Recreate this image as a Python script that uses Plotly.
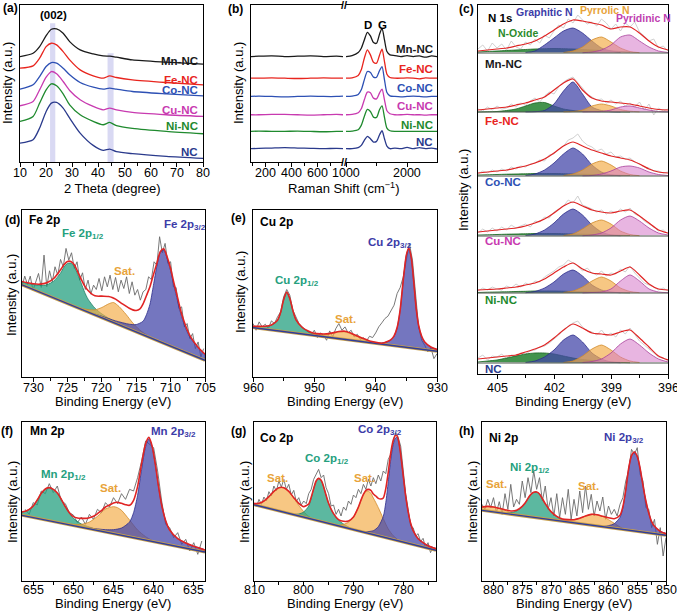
import plotly.graph_objects as go

W, H = 677, 612
FONT = "Liberation Sans, Arial, sans-serif"

# ---------------- (a) XRD ----------------
samples = ["Mn-NC", "Fe-NC", "Co-NC", "Cu-NC", "Ni-NC", "NC"]
sample_colors = ["#1a1a1a", "#e8251e", "#2d50b4", "#c83ab0", "#1f8a2e", "#2a3a8c"]

xrd_x = [10, 15, 17.5, 20, 22, 24, 26.5, 29, 33, 38, 41.8, 44.3, 46.9, 53, 66, 80]
xrd_mn = [23, 33, 53, 86, 105, 106, 93, 68, 43, 31, 25, 24, 21, 13, 6, 0]
xrd_fe = [50, 57, 80, 115, 125, 120, 100, 75, 45, 27, 20, 27, 22, 15, 7, 0]
xrd_co = [20, 33, 58, 88, 100, 98, 83, 63, 40, 26, 20, 23, 20, 13, 6, 0]
xrd_cu = [32, 45, 80, 118, 135, 128, 105, 78, 50, 30, 20, 25, 20, 12, 5, 0]
xrd_ni = [37, 52, 92, 132, 150, 144, 120, 87, 57, 37, 27, 34, 24, 16, 7, 0]
xrd_nc = [46, 56, 91, 141, 166, 168, 151, 121, 76, 39, 24, 28, 20, 14, 6, 0]
xrd_bands = [(21.5, 23.5, 417), (43.5, 45.8, 327)]

# ---------------- (b) Raman ----------------
raman_xl = [90, 150, 250, 350, 450, 550, 650, 750, 800]
raman_l_mn = [0, 1, 2, 0, 1, 2, 0, 1, 0]
raman_l_fe = [0, 0, 1, 0, -1, 0, 1, 0, 0]
raman_l_co = [0, 1, 0, -1, 0, 1, 0, 0, 1]
raman_l_cu = [0, 0, 1, 1, 0, -1, 0, 1, 0]
raman_l_ni = [0, 1, 0, 0, 1, 0, -1, 0, 0]
raman_l_nc = [0, 1, 2, 3, 2, 1, 0, 1, 0]
raman_xr = [1000, 1100, 1200, 1250, 1300, 1350, 1400, 1450, 1500, 1550, 1590,
            1630, 1670, 1720, 1800, 1900, 2000, 2100, 2200, 2300, 2400, 2490]
raman_r_mn = [0, 3, 12, 25, 50, 73, 62, 42, 40, 68, 85, 50, 15, 5, 3, 0, 3, 0, 2, -2, 2, 0]
raman_r_fe = [0, 1, 8, 25, 60, 85, 70, 48, 45, 70, 87, 50, 12, 2, 0, 0, 1, 0, -2, 1, 0, 0]
raman_r_co = [0, 1, 6, 20, 50, 75, 72, 58, 58, 78, 90, 50, 12, 2, 0, -1, 0, 1, 0, -1, 0, 0]
raman_r_cu = [0, 1, 6, 18, 45, 68, 66, 50, 48, 66, 77, 45, 12, 3, 0, 0, 1, 0, 0, -1, 0, 0]
raman_r_ni = [0, 1, 5, 18, 45, 66, 60, 43, 42, 66, 77, 42, 10, 2, 0, 0, 0, 0, 0, 0, 0, 0]
raman_r_nc = [0, 0, 3, 10, 25, 37, 30, 20, 22, 42, 54, 30, 8, 0, 2, 0, 4, 0, 3, 0, 2, -1]

# ---------------- (c) N 1s ----------------
n1s_raw_x = [406, 405.75, 405.5, 405.25, 405, 404.75, 404.5, 404.25, 404, 403.75,
             403.5, 403.25, 403, 402.75, 402.5, 402.25, 402, 401.75, 401.5, 401.25,
             401, 400.75, 400.5, 400.25, 400, 399.75, 399.5, 399.25, 399, 398.75,
             398.5, 398.25, 398, 397.75, 397.5, 397.25, 397, 396.75, 396.5, 396.25, 396]
n1s_raw = [
    [4, 8, 2, 10, 5, 9, 3, 12, 6, 4, 11, 8, 14, 10, 18, 15, 22, 28, 25, 34, 30, 38, 33, 29, 31,
     27, 34, 30, 24, 29, 22, 30, 26, 31, 21, 17, 12, 14, 5, 7, 2],
    [3, 1, 5, 2, 6, 3, 4, 8, 5, 9, 7, 11, 14, 10, 16, 20, 18, 25, 30, 33, 35, 30, 24, 18, 15,
     12, 13, 9, 12, 8, 11, 6, 9, 5, 10, 2, 8, -3, 4, 1, 3],
    [2, 5, 3, 6, 4, 7, 5, 9, 7, 10, 9, 12, 13, 16, 15, 21, 22, 27, 30, 36, 38, 42, 35, 31, 29,
     25, 27, 22, 24, 19, 20, 17, 18, 14, 12, 9, 8, 5, 5, 3, 4],
    [3, 7, 4, 8, 5, 9, 6, 11, 8, 10, 12, 9, 15, 14, 19, 18, 24, 27, 30, 36, 33, 40, 31, 29, 27,
     24, 26, 22, 25, 23, 27, 24, 28, 22, 20, 15, 12, 9, 5, 6, 2],
    [2, 5, 3, 6, 4, 3, 7, 5, 9, 6, 10, 8, 12, 11, 16, 19, 22, 26, 28, 33, 30, 27, 22, 25, 20,
     18, 22, 17, 20, 19, 24, 21, 27, 20, 15, 10, 8, 6, 3, 5, 2],
    [5, 8, 3, 7, 6, 9, 4, 8, 7, 10, 9, 12, 13, 16, 17, 20, 24, 28, 33, 37, 40, 42, 36, 32, 31,
     28, 33, 27, 30, 26, 33, 29, 35, 28, 22, 18, 14, 10, 6, 5, 2],
]
n1s_env_x = [406, 405.5, 405, 404.5, 404, 403.5, 403, 402.5, 402, 401.5, 401,
             400.5, 400, 399.5, 399, 398.5, 398, 397.5, 397, 396.5, 396]
n1s_env = [
    [2, 3, 4, 5, 7, 9, 12, 17, 23, 29, 33, 32, 30, 28, 24, 26, 26, 20, 12, 6, 3],
    [2, 3, 4, 5, 7, 9, 12, 15, 22, 29, 33, 22, 14, 11, 10, 9, 8, 6, 4, 2.5, 2],
    [3, 4, 5, 6, 8, 10, 13, 17, 23, 30, 34, 30, 26, 23, 20, 18, 16, 12, 7, 4, 3],
    [4, 5, 6, 7, 8, 10, 13, 17, 23, 30, 34, 30, 26, 24, 23, 25, 26, 20, 13, 6, 3],
    [3, 3.5, 4, 5, 6, 8, 10, 14, 20, 26, 30, 24, 20, 19, 18, 22, 26, 18, 9, 4, 3],
    [4, 5, 6, 7, 8, 11, 14, 18, 25, 33, 39, 35, 30, 29, 28, 31, 33, 25, 16, 7, 3],
]
oxide_x = [406, 405.5, 405, 404.5, 404, 403.5, 403, 402.5, 402, 401.5, 401, 400.5, 400, 399.5, 399, 398.5, 398]
oxide_h = [
    [1, 1.5, 2, 2.5, 3, 3.5, 4, 4.3, 4.5, 4.3, 4, 3.5, 3, 2.5, 2, 1.5, 1],
    [0, 0.2, 0.5, 1.5, 3, 6, 9, 9.5, 6, 3, 1.5, 1, 0.5, 0.3, 0.2, 0.1, 0],
    [1, 1.2, 1.5, 1.8, 2, 2.2, 2.5, 2.5, 2.5, 2.3, 2, 1.8, 1.5, 1.2, 1, 0.7, 0.5],
    [1, 1.2, 1.5, 1.8, 2, 2.2, 2.5, 2.5, 2.5, 2.3, 2, 1.8, 1.5, 1.2, 1, 0.7, 0.5],
    [0.5, 0.8, 1, 1.2, 1.5, 1.7, 2, 2, 2, 1.8, 1.5, 1.3, 1, 0.8, 0.6, 0.4, 0.2],
    [1, 2, 3, 5, 7, 9, 10, 10, 9, 7, 5, 3.5, 2.5, 1.5, 1, 0.6, 0.3],
]
graphitic_x = [403.5, 403, 402.5, 402, 401.5, 401, 400.5, 400, 399.5, 399, 398.5]
graphitic_h = [
    [0.5, 2, 8, 15, 22, 25, 20, 12, 5, 2, 0.5],
    [0.1, 0.3, 1.5, 8, 21, 30, 18, 5, 1.5, 0.3, 0.1],
    [0.5, 2, 6, 13, 22, 28, 22, 11, 4, 1, 0.3],
    [0.5, 2, 6, 13, 22, 27, 21, 11, 4, 1, 0.3],
    [0.3, 1.5, 5, 11, 19, 23, 17, 8, 3, 1, 0.3],
    [0.5, 2, 6, 13, 23, 28, 21, 10, 4, 1, 0.3],
]
pyrrolic_x = [401.5, 401, 400.5, 400, 399.5, 399, 398.5, 398, 397.5]
pyrrolic_h = [
    [0.5, 2, 6, 13, 16, 11, 5, 1.5, 0.3],
    [0.2, 0.5, 2, 6, 8, 6, 2.5, 0.8, 0.2],
    [0.5, 2, 6, 12, 15, 11, 5, 1.5, 0.3],
    [0.5, 2, 7, 13, 16, 12, 5, 1.5, 0.3],
    [0.5, 2, 6, 12, 16, 12, 5, 1.5, 0.3],
    [0.5, 2, 7, 14, 18, 13, 6, 2, 0.5],
]
pyridinic_x = [400.5, 400, 399.5, 399, 398.5, 398, 397.5, 397, 396.5, 396]
pyridinic_h = [
    [0.3, 1, 3, 8, 16, 18, 12, 6, 2, 0.5],
    [0.1, 0.2, 0.5, 2, 5, 6, 4, 2, 0.5, 0.2],
    [0.2, 0.5, 2, 5, 9, 10, 8, 4, 1.5, 0.5],
    [0.3, 1, 3, 8, 16, 20, 15, 8, 3, 1],
    [0.1, 0.5, 1, 4, 12, 18, 12, 4, 1, 0.3],
    [0.5, 1.5, 4, 10, 19, 24, 18, 10, 4, 1],
]

# ---------------- (d) Fe 2p ----------------
fe_raw_x = [731.6, 731.2, 730.8, 730.4, 730.0, 729.6, 729.2, 728.8, 728.4, 728.0,
            727.6, 727.2, 726.8, 726.4, 726.0, 725.6, 725.2, 724.8, 724.4, 724.0,
            723.6, 723.2, 722.8, 722.4, 722.0, 721.6, 721.2, 720.8, 720.4, 720.0,
            719.6, 719.2, 718.8, 718.4, 718.0, 717.6, 717.2, 716.8, 716.4, 716.0,
            715.6, 715.2, 714.8, 714.4, 714.0, 713.6, 713.2, 712.8, 712.4, 712.0,
            711.6, 711.2, 710.8, 710.4, 710.0, 709.6, 709.2, 708.8, 708.4, 708.0,
            707.6, 707.2, 706.8, 706.4, 706.0, 705.6, 705.2]
fe_raw = [271, 302, 277, 302, 259, 288, 310, 268, 365, 270,
          318, 285, 330, 305, 352, 330, 385, 350, 372, 325,
          345, 290, 312, 262, 290, 248, 275, 262, 295, 258,
          300, 270, 305, 262, 298, 255, 290, 265, 300, 250,
          285, 245, 262, 230, 255, 262, 300, 292, 345, 335,
          420, 372, 400, 340, 345, 270, 268, 205, 210, 150,
          160, 115, 130, 85, 105, 60, 85]
fe_p12_x = [731.6, 731.6, 731, 730, 729, 728, 727, 726, 725.5, 725, 724.5, 724, 723.5, 723,
            722.5, 722, 721, 720, 719, 718, 717, 716]
fe_p12 = [276, 284, 281, 277, 274, 276, 287, 311, 329, 340, 341, 330, 307, 281,
          254, 233, 206, 189, 176, 165, 154, 144]
fe_sat_x = [724, 723, 722, 721, 720, 719, 718.3, 717.5, 716.5, 715.5, 714.5, 713.5, 712.5]
fe_sat = [212, 206, 202, 201, 208, 219, 223, 211, 188, 162, 141, 126, 114]
fe_p32_x = [722, 720, 718, 716, 715, 714, 713.5, 713, 712.5, 712, 711.5, 711, 710.5, 710,
            709.5, 709, 708.5, 708, 707.5, 707, 706, 705, 705]
fe_p32 = [194, 182, 168, 158, 157, 167, 187, 218, 274, 332, 373, 381, 355, 318,
          273, 229, 188, 156, 131, 113, 89, 68, 50]
fe_env_x = [731.6, 731, 730, 729, 728, 727, 726, 725.5, 725, 724.5,
            724, 723.5, 723, 722.5, 722, 721, 720, 719, 718.5, 718,
            717, 716, 715.5, 715, 714.5, 714, 713.5, 713, 712.5, 712,
            711.5, 711, 710.5, 710, 709.5, 709, 708.5, 708, 707.5, 707, 706, 705]
fe_env = [286, 283, 279, 278, 282, 295, 321, 336, 346, 346,
          336, 315, 293, 273, 259, 243, 242, 241, 238, 233,
          219, 206, 201, 199, 203, 219, 244, 270, 306, 340,
          375, 384, 359, 325, 280, 239, 196, 164, 137, 117, 89, 68]
fe_base_x = [731.6, 705]
fe_base = [276, 50]

# ---------------- (e) Cu 2p ----------------
cu_raw_x = [960, 959.5, 959, 958.5, 958, 957.5, 957, 956.5, 956, 955.5,
            955, 954.5, 954, 953.5, 953, 952.5, 952, 951.5, 951, 950.5,
            950, 949.5, 949, 948.5, 948, 947.5, 947, 946.5, 946, 945.5,
            945, 944.5, 944, 943.5, 943, 942.5, 942, 941.5, 941, 940.5,
            940, 939.5, 939, 938.5, 938, 937.5, 937, 936.5, 936, 935.5,
            935, 934.5, 934, 933.5, 933, 932.5, 932, 931.5, 931, 930.5, 930]
cu_raw = [160, 140, 165, 150, 158, 145, 168, 160, 180, 195,
          240, 262, 245, 200, 180, 160, 150, 142, 135, 128,
          140, 118, 132, 125, 110, 138, 120, 145, 160, 140,
          150, 132, 140, 120, 128, 112, 118, 108, 122, 118,
          132, 150, 162, 175, 182, 200, 215, 250, 268, 300,
          352, 400, 350, 240, 150, 110, 95, 75, 88, 55, 70]
cu_p12_x = [960, 960, 959, 958, 957, 956, 955.5, 955, 954.5, 954, 953.5, 953, 952, 951, 950, 949, 948, 947]
cu_p12 = [148, 151, 151, 151, 155, 169, 192, 231, 253, 234, 198, 171, 147, 136, 129, 125, 121, 117]
cu_sat_x = [951, 950, 949, 948, 947, 946, 945, 944, 943, 942, 941, 940, 939]
cu_sat = [127, 126, 126, 128, 131, 135, 135, 129, 121, 113, 106, 102, 98]
cu_p32_x = [941, 939, 938, 937.5, 937, 936.5, 936, 935.5, 935, 934.6, 934.2, 933.8, 933.4, 933,
            932.5, 932, 931, 930, 930]
cu_p32 = [103, 102, 106, 111, 122, 147, 201, 290, 364, 385, 357, 286, 205, 154,
          121, 104, 89, 82, 77]
cu_env_x = [960, 959, 958, 957, 956, 955.5, 955, 954.5, 954, 953.5,
            953, 952, 951, 950, 949, 948, 947, 946, 945, 944,
            943, 942, 941, 940, 939, 938, 937.5, 937, 936.5, 936,
            935.5, 935, 934.6, 934.2, 933.8, 933.4, 933, 932.5, 932, 931, 930]
cu_env = [152, 152, 152, 156, 170, 193, 232, 254, 235, 199,
          172, 149, 138, 131, 129, 129, 132, 136, 137, 131,
          123, 115, 108, 104, 101, 107, 112, 123, 148, 202,
          291, 365, 386, 358, 287, 206, 155, 122, 105, 90, 83]
cu_base_x = [960, 930]
cu_base = [148, 77]

# ---------------- (f) Mn 2p ----------------
mn_raw_x = [656, 655.5, 655, 654.5, 654, 653.5, 653, 652.5, 652, 651.5,
            651, 650.5, 650, 649.5, 649, 648.5, 648, 647.5, 647, 646.5,
            646, 645.5, 645, 644.5, 644, 643.5, 643, 642.5, 642, 641.5,
            641, 640.5, 640, 639.5, 639, 638.5, 638, 637.5, 637, 636.5,
            636, 635.5, 635, 634.5, 634]
mn_raw = [215, 200, 235, 228, 270, 262, 292, 265, 285, 240,
          232, 205, 198, 175, 192, 170, 200, 185, 215, 205,
          235, 222, 250, 232, 262, 245, 275, 270, 310, 360,
          420, 410, 400, 330, 240, 170, 160, 130, 145, 110,
          125, 90, 115, 80, 120]
mn_p12_x = [656.4, 656.4, 656, 655.5, 655, 654.5, 654, 653.5, 653, 652.5, 652, 651.5, 651,
            650.5, 650, 649, 648, 647, 646]
mn_p12 = [197, 207, 209, 215, 225, 243, 263, 276, 280, 275, 264, 245, 223,
          204, 188, 171, 162, 154, 147]
mn_sat_x = [651, 650, 649, 648, 647, 646, 645, 644.5, 644, 643, 642, 641, 640]
mn_sat = [172, 170, 170, 177, 194, 216, 223, 220, 212, 183, 153, 133, 119]
mn_p32_x = [650, 648, 646, 645, 644, 643, 642.5, 642, 641.5, 641, 640.6, 640.2, 639.8, 639.4,
            639, 638.5, 638, 637, 636, 635, 633.6, 633.6]
mn_p32 = [166, 159, 154, 154, 159, 177, 205, 257, 335, 403, 426, 404, 352, 285,
          228, 181, 153, 127, 114, 104, 93, 87]
mn_env_x = [656.4, 656, 655.5, 655, 654.5, 654, 653.5, 653, 652.5, 652,
            651.5, 651, 650.5, 650, 649.5, 649, 648.5, 648, 647.5, 647,
            646.5, 646, 645.5, 645, 644.5, 644, 643.5, 643, 642.5, 642,
            641.5, 641, 640.6, 640.2, 639.8, 639.4, 639, 638.5, 638, 637, 636, 635, 633.6]
mn_env = [207, 209, 215, 225, 243, 263, 276, 280, 275, 264,
          245, 223, 205, 193, 189, 188, 188, 190, 194, 202,
          211, 222, 228, 234, 236, 233, 229, 227, 242, 283,
          352, 412, 431, 406, 352, 285, 228, 181, 153, 127, 114, 104, 93]
mn_base_x = [656.4, 633.6]
mn_base = [197, 87]

# ---------------- (g) Co 2p ----------------
co_raw_x = [810, 809.5, 809, 808.5, 808, 807.5, 807, 806.5, 806, 805.5,
            805, 804.5, 804, 803.5, 803, 802.5, 802, 801.5, 801, 800.5,
            800, 799.5, 799, 798.5, 798, 797.5, 797, 796.5, 796, 795.5,
            795, 794.5, 794, 793.5, 793, 792.5, 792, 791.5, 791, 790.5,
            790, 789.5, 789, 788.5, 788, 787.5, 787, 786.5, 786, 785.5,
            785, 784.5, 784, 783.5, 783, 782.5, 782, 781.5, 781, 780.5,
            780, 779.5, 779, 778.5, 778, 777.5, 777, 776.5, 776, 775.5,
            775, 774.5, 774]
co_raw = [235, 222, 245, 230, 252, 240, 268, 255, 285, 270,
          300, 282, 305, 275, 290, 258, 272, 238, 250, 228,
          240, 232, 262, 275, 305, 318, 335, 310, 318, 280,
          262, 225, 228, 200, 215, 195, 222, 212, 240, 230,
          258, 250, 275, 262, 290, 275, 305, 285, 310, 292,
          318, 300, 330, 322, 365, 380, 420, 445, 430, 405,
          330, 262, 215, 165, 160, 135, 142, 118, 128, 100,
          115, 85, 102]
co_sat2_x = [810, 810, 809, 808, 807, 806, 805, 804, 803, 802, 801, 800, 799, 798]
co_sat2 = [229, 232, 233, 240, 253, 269, 280, 280, 269, 249, 227, 208, 194, 184]
co_p12_x = [802, 801, 800, 799, 798.5, 798, 797.5, 797, 796.5, 796, 795.5, 795, 794, 793, 792, 791, 790]
co_p12 = [200, 201, 207, 225, 248, 277, 300, 308, 302, 283, 257, 233, 201, 182, 171, 162, 154]
co_sat1_x = [793, 792, 791, 790, 789, 788.5, 788, 787.5, 787, 786.5, 786, 785.5, 785, 784, 783, 782, 781]
co_sat1 = [167, 170, 176, 192, 222, 242, 260, 269, 270, 263, 249, 235, 220, 187, 156, 136, 123]
co_p32_x = [788, 786, 785, 784, 783.5, 783, 782.5, 782, 781.6, 781.2, 780.8, 780.4, 780, 779.5,
            779, 778.5, 778, 777, 776, 775, 773.4, 773.4]
co_p32 = [147, 151, 163, 194, 235, 298, 364, 410, 428, 431, 410, 368, 317, 255,
          208, 173, 151, 128, 115, 106, 97, 92]
co_env_x = [810, 809, 808, 807, 806, 805, 804, 803, 802, 801,
            800, 799.5, 799, 798.5, 798, 797.5, 797, 796.5, 796, 795.5,
            795, 794, 793, 792, 791, 790, 789, 788.5, 788, 787.5,
            787, 786.5, 786, 785.5, 785, 784.5, 784, 783.5, 783, 782.5,
            782, 781.6, 781.2, 780.8, 780.4, 780, 779.5, 779, 778.5, 778,
            777, 776, 775, 773.4]
co_env = [232, 233, 240, 253, 269, 280, 280, 269, 250, 233,
          223, 226, 231, 251, 277, 300, 308, 302, 283, 257,
          233, 202, 184, 179, 180, 192, 222, 242, 260, 272,
          275, 272, 261, 255, 248, 246, 249, 277, 326, 384,
          422, 436, 435, 410, 368, 317, 255, 208, 173, 151,
          127, 115, 106, 97]
co_base_x = [810, 773.4]
co_base = [229, 92]

# ---------------- (h) Ni 2p ----------------
ni_raw_x = [882, 881.5, 881, 880.5, 880, 879.5, 879, 878.5, 878, 877.5,
            877, 876.5, 876, 875.5, 875, 874.5, 874, 873.5, 873, 872.5,
            872, 871.5, 871, 870.5, 870, 869.5, 869, 868.5, 868, 867.5,
            867, 866.5, 866, 865.5, 865, 864.5, 864, 863.5, 863, 862.5,
            862, 861.5, 861, 860.5, 860, 859.5, 859, 858.5, 858, 857.5,
            857, 856.5, 856, 855.5, 855, 854.5, 854, 853.5, 853, 852.5,
            852, 851.5, 851, 850.5, 850]
ni_raw = [230, 215, 245, 220, 250, 205, 238, 200, 262, 215,
          290, 222, 245, 230, 300, 250, 310, 265, 330, 275,
          310, 240, 285, 215, 250, 195, 262, 190, 250, 200,
          275, 185, 245, 195, 270, 205, 285, 215, 260, 195,
          240, 210, 252, 185, 225, 200, 215, 195, 230, 250,
          300, 330, 395, 380, 400, 320, 300, 220, 215, 160,
          185, 110, 160, 75, 130]
ni_sat2_x = [882, 882, 881, 880, 879, 878, 877, 876, 875]
ni_sat2 = [212, 222, 224, 222, 218, 212, 205, 200, 196]
ni_p12_x = [879, 878, 877, 876, 875, 874.5, 874, 873.5, 873, 872.5, 872, 871.5, 871, 870, 869, 868, 867, 866]
ni_p12 = [205, 205, 205, 210, 224, 234, 248, 260, 266, 267, 261, 247, 232, 208, 193, 184, 179, 174]
ni_sat1_x = [868, 867, 866, 865, 864, 863, 862, 861, 860, 859, 858, 857]
ni_sat1 = [181, 182, 184, 188, 195, 200, 199, 194, 184, 173, 162, 153]
ni_p32_x = [861, 860, 859, 858, 857.5, 857, 856.5, 856, 855.5, 855, 854.5, 854, 853.5, 853,
            852.5, 852, 851, 850, 850]
ni_p32 = [163, 166, 172, 191, 220, 273, 337, 376, 387, 374, 338, 286, 240, 204,
          178, 164, 149, 142, 137]
ni_env_x = [882, 881, 880, 879, 878, 877, 876, 875, 874.5, 874,
            873.5, 873, 872.5, 872, 871.5, 871, 870, 869, 868, 867,
            866, 865, 864, 863, 862, 861, 860, 859, 858, 857.5,
            857, 856.5, 856, 855.5, 855, 854.5, 854, 853.5, 853, 852.5,
            852, 851, 850]
ni_env = [222, 224, 222, 218, 214, 210, 212, 224, 234, 248,
          260, 266, 267, 261, 247, 232, 208, 194, 186, 184,
          184, 188, 195, 200, 199, 194, 190, 187, 197, 223,
          273, 337, 376, 387, 374, 338, 286, 240, 204, 178,
          164, 149, 142]
ni_base_x = [882, 850]
ni_base = [212, 137]

# tick values per axis
ticks_a = [10, 20, 30, 40, 50, 60, 70, 80]
ticks_b_left = [200, 400, 600]
ticks_b_right = [1000, 2000]
ticks_c = [405, 402, 399, 396]
ticks_d = [730, 725, 720, 715, 710, 705]
ticks_e = [960, 950, 940, 930]
ticks_f = [655, 650, 645, 640, 635]
ticks_g = [810, 800, 790, 780]
ticks_h = [880, 875, 870, 865, 860, 855, 850]

# ---------------- styling ----------------
TEAL_F, TEAL_L, TEAL_T = "rgba(38,160,128,0.75)", "#1d7d62", "#25a07e"
ORNG_F, ORNG_L, ORNG_T = "rgba(243,172,72,0.68)", "#d08a2a", "#e8a33a"
BLUE_F, BLUE_L, BLUE_T = "rgba(68,70,168,0.74)", "#2c2c8a", "#3c3ca8"
PINK_F, PINK_L = "rgba(214,120,200,0.55)", "#a8409a"
GRN_F, GRN_L = "rgba(34,128,46,0.85)", "#17621f"
RED = "#e02424"
RAW = "#6a6a6a"

fig = go.Figure()


def px(v):
    return v / W


def py(v):
    return 1 - v / H


def add_line(ax, x, y, color, width=1.2, shape="spline"):
    fig.add_trace(go.Scatter(x=x, y=y, mode="lines", xaxis="x" + ax, yaxis="y" + ax,
                             line=dict(color=color, width=width, shape=shape, smoothing=0.7),
                             hoverinfo="skip", showlegend=False))


def add_peak(ax, x, y, fill, edge):
    fig.add_trace(go.Scatter(x=x, y=y, mode="lines", fill="toself", fillcolor=fill,
                             xaxis="x" + ax, yaxis="y" + ax,
                             line=dict(color=edge, width=0.8, shape="spline", smoothing=0.7),
                             hoverinfo="skip", showlegend=False))


def note(text, x, y, ref="paper", size=11, color="black", bold=True, anchor="center", angle=0):
    if ref == "paper":
        xr, yr = "paper", "paper"
    else:
        xr, yr = "x" + ref, "y" + ref
    fig.add_annotation(text="<b>" + text + "</b>" if bold else text, x=x, y=y, xref=xr, yref=yr,
                       showarrow=False, xanchor=anchor, yanchor="middle", textangle=angle,
                       font=dict(family=FONT, size=size, color=color))


# (a)
xrd_sets = [xrd_mn, xrd_fe, xrd_co, xrd_cu, xrd_ni, xrd_nc]
xrd_offsets = [294, 232, 199, 137, 85, 11]
xrd_label_y = [304, 247, 217, 157, 109, 29]
for x0, x1, top in xrd_bands:
    fig.add_shape(type="rect", xref="x", yref="y", x0=x0, x1=x1, y0=0, y1=top,
                  fillcolor="rgba(180,180,232,0.5)", line=dict(width=0), layer="below")
for vals, off, col, name, ly in zip(xrd_sets, xrd_offsets, sample_colors, samples, xrd_label_y):
    add_line("", xrd_x, [off + v for v in vals], col, 1.3)
    note(name, 79, ly, "", 11.5, col, anchor="right")
note("(002)", 23, 442, "", 11.5)

# (b)
raman_l = [raman_l_mn, raman_l_fe, raman_l_co, raman_l_cu, raman_l_ni, raman_l_nc]
raman_r = [raman_r_mn, raman_r_fe, raman_r_co, raman_r_cu, raman_r_ni, raman_r_nc]
raman_offsets = [317, 252, 197, 142, 92, 40]
raman_label_y = [339, 280, 222, 167, 112, 59]
for vl, vr, off, col, name, ly in zip(raman_l, raman_r, raman_offsets, sample_colors, samples, raman_label_y):
    add_line("2", raman_xl, [off + v for v in vl], col, 1.3)
    add_line("3", raman_xr, [off + v for v in vr], col, 1.3)
    note(name, 2455, ly, "3", 11.5, col, anchor="right")
note("D", 1360, 412, "3", 11.5)
note("G", 1590, 412, "3", 11.5)

# (c)
n1s_offsets = [321, 262, 198, 138, 81, 11]
n1s_label_y = [310, 253, 192, 133, 74, 5]
for i, off in enumerate(n1s_offsets):
    add_line("4", n1s_raw_x, [off + v for v in n1s_raw[i]], "#c4c4c4", 0.8, "linear")
    add_peak("4", oxide_x, [off + v for v in oxide_h[i]], GRN_F, GRN_L)
    add_peak("4", graphitic_x, [off + v for v in graphitic_h[i]], BLUE_F, BLUE_L)
    add_peak("4", pyrrolic_x, [off + v for v in pyrrolic_h[i]], ORNG_F, ORNG_L)
    add_peak("4", pyridinic_x, [off + v for v in pyridinic_h[i]], PINK_F, PINK_L)
    add_line("4", n1s_env_x, [off + v for v in n1s_env[i]], RED, 1.2)
    add_line("4", [406, 396], [off, off], "#4a544a", 1.2, "linear")
    note(samples[i], 405.75, n1s_label_y[i], "4", 11.5, sample_colors[i], anchor="left")
note("N 1s", 405.6, 356, "4", 11.5, anchor="left")
note("Graphitic N", 402.5, 362, "4", 10.5, BLUE_T)
note("Pyrrolic N", 399.3, 364, "4", 10.5, ORNG_T)
note("Pyridinic N", 397.3, 356, "4", 10.5, "#c040b0")
note("N-Oxide", 403.9, 341, "4", 10.5, "#2a8a2a")

# (d)-(h)
xps = [
    ("5", fe_raw_x, fe_raw, [(fe_p12_x, fe_p12, TEAL_F, TEAL_L), (fe_sat_x, fe_sat, ORNG_F, ORNG_L),
                             (fe_p32_x, fe_p32, BLUE_F, BLUE_L)], fe_env_x, fe_env, fe_base_x, fe_base),
    ("6", cu_raw_x, cu_raw, [(cu_p12_x, cu_p12, TEAL_F, TEAL_L), (cu_sat_x, cu_sat, ORNG_F, ORNG_L),
                             (cu_p32_x, cu_p32, BLUE_F, BLUE_L)], cu_env_x, cu_env, cu_base_x, cu_base),
    ("7", mn_raw_x, mn_raw, [(mn_p12_x, mn_p12, TEAL_F, TEAL_L), (mn_sat_x, mn_sat, ORNG_F, ORNG_L),
                             (mn_p32_x, mn_p32, BLUE_F, BLUE_L)], mn_env_x, mn_env, mn_base_x, mn_base),
    ("8", co_raw_x, co_raw, [(co_sat2_x, co_sat2, ORNG_F, ORNG_L), (co_p12_x, co_p12, TEAL_F, TEAL_L),
                             (co_sat1_x, co_sat1, ORNG_F, ORNG_L), (co_p32_x, co_p32, BLUE_F, BLUE_L)],
     co_env_x, co_env, co_base_x, co_base),
    ("9", ni_raw_x, ni_raw, [(ni_sat2_x, ni_sat2, ORNG_F, ORNG_L), (ni_p12_x, ni_p12, TEAL_F, TEAL_L),
                             (ni_sat1_x, ni_sat1, ORNG_F, ORNG_L), (ni_p32_x, ni_p32, BLUE_F, BLUE_L)],
     ni_env_x, ni_env, ni_base_x, ni_base),
]
for ax, rx, ry, peaks, ex, ey, bx, by in xps:
    add_line(ax, rx, ry, RAW, 0.9, "linear")
    for x, y, f, e in peaks:
        add_peak(ax, x, y, f, e)
    add_line(ax, bx, by, "#c9a04a", 3, "linear")
    add_line(ax, bx, by, "#2f3d9c", 1.4, "linear")
    add_line(ax, ex, ey, RED, 1.6)

note("Fe 2p", 730.9, 470, "5", 12, anchor="left")
note("Fe 2p<sub>1/2</sub>", 722.7, 427, "5", 11.5, TEAL_T)
note("Sat.", 716.7, 316, "5", 11.5, ORNG_T)
note("Fe 2p<sub>3/2</sub>", 707.9, 455, "5", 11.5, BLUE_T)

note("Cu 2p", 959.2, 465, "6", 12, anchor="left")
note("Cu 2p<sub>1/2</sub>", 952.9, 287, "6", 11.5, TEAL_T)
note("Sat.", 944.9, 175, "6", 11.5, ORNG_T)
note("Cu 2p<sub>3/2</sub>", 937.6, 400, "6", 11.5, BLUE_T)

note("Mn 2p", 655.6, 449, "7", 12, anchor="left")
note("Mn 2p<sub>1/2</sub>", 651.2, 317, "7", 11.5, TEAL_T)
note("Sat.", 645.4, 279, "7", 11.5, ORNG_T)
note("Mn 2p<sub>3/2</sub>", 637.5, 447, "7", 11.5, BLUE_T)

note("Co 2p", 809.2, 429, "8", 12, anchor="left")
note("Sat.", 805.2, 309, "8", 11.5, ORNG_T)
note("Co 2p<sub>1/2</sub>", 795.4, 367, "8", 11.5, TEAL_T)
note("Sat.", 787.7, 309, "8", 11.5, ORNG_T)
note("Co 2p<sub>3/2</sub>", 784.6, 452, "8", 11.5, BLUE_T)

note("Ni 2p", 881.1, 429, "9", 12, anchor="left")
note("Sat.", 879.4, 292, "9", 11.5, ORNG_T)
note("Ni 2p<sub>1/2</sub>", 873.6, 339, "9", 11.5, TEAL_T)
note("Sat.", 863.4, 284, "9", 11.5, ORNG_T)
note("Ni 2p<sub>3/2</sub>", 857.3, 429, "9", 11.5, BLUE_T)

# tick labels drawn as annotations so they sit as close to the axis as in the original
for ax, vals, ly in [("", ticks_a, 173), ("2", ticks_b_left, 173), ("3", ticks_b_right, 173),
                     ("4", ticks_c, 388), ("5", ticks_d, 388), ("6", ticks_e, 388),
                     ("7", ticks_f, 590), ("8", ticks_g, 590), ("9", ticks_h, 590)]:
    for v in vals:
        fig.add_annotation(text=str(v), x=v, y=py(ly), xref="x" + ax, yref="paper", showarrow=False,
                           xanchor="center", yanchor="middle",
                           font=dict(family=FONT, size=12.5, color="black"))

# panel letters, axis titles
for txt, x, y in [("(a)", 11, 8), ("(b)", 235, 9), ("(c)", 467, 9), ("(d)", 12, 220),
                  ("(e)", 238, 218), ("(f)", 7, 431), ("(g)", 238, 431), ("(h)", 467, 431)]:
    note(txt, px(x), py(y), size=12)

for txt, x, y in [("2 Theta (degree)", 112, 188), ("Raman Shift (cm<sup>−1</sup>)", 344, 188),
                  ("Binding Energy (eV)", 573, 401), ("Binding Energy (eV)", 113, 401),
                  ("Binding Energy (eV)", 345, 401), ("Binding Energy (eV)", 113, 603),
                  ("Binding Energy (eV)", 345, 603), ("Binding Energy (eV)", 574, 603)]:
    note(txt, px(x), py(y), size=13, bold=False)

for x, y in [(8, 83), (239, 83), (463, 190), (11, 295), (240, 292), (12, 502), (244, 502), (472, 502)]:
    note("Intensity (a.u.)", px(x), py(y), size=13, bold=False, angle=-90)

for y in [5, 162]:
    note("//", px(344.5), py(y), size=11)


def xaxis(dom, rng, tickvals, minor, anchor, mirror=True):
    return dict(domain=[px(dom[0]), px(dom[1])], range=rng, anchor=anchor, showline=True,
                linecolor="black", linewidth=1.3, mirror=mirror, ticks="outside", ticklen=4,
                tickwidth=1.1, tickcolor="black", tickvals=tickvals, showticklabels=False,
                minor=dict(tickvals=minor, ticks="outside", ticklen=2.5, tickwidth=1, tickcolor="black"),
                showgrid=False, zeroline=False, automargin=False)


def yaxis(dom, rng, anchor, mirror=True, side="left"):
    return dict(domain=[py(dom[1]), py(dom[0])], range=rng, anchor=anchor, showline=True,
                linecolor="black", linewidth=1.3, mirror=mirror, side=side, showticklabels=False,
                ticks="", showgrid=False, zeroline=False, automargin=False)


fig.update_layout(
    width=W, height=H, margin=dict(l=0, r=0, t=0, b=0, pad=0, autoexpand=False),
    paper_bgcolor="white", plot_bgcolor="white", showlegend=False,
    xaxis=xaxis((20, 203), [10, 80], ticks_a, [15, 25, 35, 45, 55, 65, 75], "y"),
    yaxis=yaxis((5, 162), [0, 472], "x"),
    xaxis2=xaxis((251, 343), [90, 800], ticks_b_left, [100, 300, 500, 700], "y2"),
    yaxis2=yaxis((5, 162), [0, 472], "x2", mirror=False),
    xaxis3=xaxis((346, 437), [1000, 2490], ticks_b_right, [1500], "y3"),
    yaxis3=yaxis((5, 162), [0, 472], "x3", mirror=False, side="right"),
    xaxis4=xaxis((478, 668), [406, 396], ticks_c, [403.5, 400.5, 397.5], "y4"),
    yaxis4=yaxis((5, 374), [0, 369], "x4"),
    xaxis5=xaxis((22, 205), [731.6, 705], ticks_d, [727.5, 722.5, 717.5, 712.5, 707.5], "y5"),
    yaxis5=yaxis((210, 377), [0, 500], "x5"),
    xaxis6=xaxis((253, 437), [960, 930], ticks_e, [955, 945, 935], "y6"),
    yaxis6=yaxis((210, 377), [0, 500], "x6"),
    xaxis7=xaxis((22, 205), [656.4, 633.6], ticks_f, [652.5, 647.5, 642.5, 637.5], "y7"),
    yaxis7=yaxis((422, 581), [0, 477], "x7"),
    xaxis8=xaxis((254, 436), [810, 773.4], ticks_g, [805, 795, 785, 775], "y8"),
    yaxis8=yaxis((422, 581), [0, 477], "x8"),
    xaxis9=xaxis((482, 666), [882, 850], ticks_h, [877.5, 872.5, 867.5, 862.5, 857.5, 852.5], "y9"),
    yaxis9=yaxis((422, 581), [0, 477], "x9"),
)

fig.write_html("out.html", config={"displayModeBar": False},
               post_script="document.body.style.margin='0px';document.body.style.overflow='hidden';")
